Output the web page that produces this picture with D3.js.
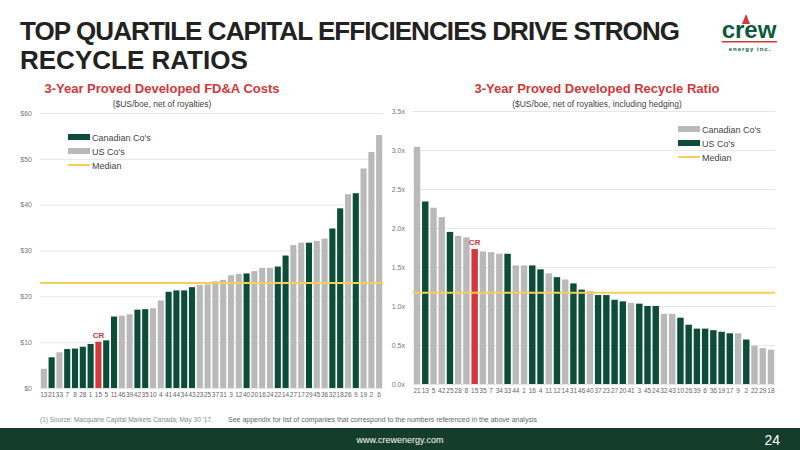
<!DOCTYPE html>
<html><head><meta charset="utf-8">
<script src="https://cdn.jsdelivr.net/npm/d3@7"></script>
<style>body{margin:0;background:#fff}svg{display:block;font-family:"Liberation Sans",Arial,sans-serif}</style>
</head><body><div id="container"></div>
<script>
// left chart: FD&A costs ($US/boe)
let fdaLabels = ['13','21','33','7','8','28','1','15','5','11','46','39','42','35','10','4','41','44','34','43','23','25','37','31','3','12','40','20','16','24','22','14','27','17','29','45','36','32','18','26','9','19','2','6'];
let fdaValues = [4.2,6.7,7.8,8.5,8.6,9.0,9.6,10.1,10.4,15.6,15.8,16.1,17.1,17.2,17.4,19.1,21.0,21.3,21.3,22.0,22.5,22.6,23.3,23.6,24.6,24.9,25.0,25.5,26.2,26.2,26.5,28.9,31.2,31.7,31.7,32.1,32.6,34.8,39.2,42.3,42.5,47.9,51.5,55.2];
// c = Canadian, u = US, r = Crew
let fdaGroups = ['u','c','u','c','c','c','c','r','c','c','u','u','c','c','u','u','c','c','c','c','u','u','u','u','u','u','c','u','u','u','c','c','u','u','c','u','u','c','c','u','c','u','u','u'];
let fdaMedian = 22.9;
let fdaTicks = [0,10,20,30,40,50,60];

// right chart: recycle ratio
let rrLabels = ['21','13','5','42','25','28','8','15','35','7','34','33','44','1','16','4','11','12','14','31','46','40','37','23','27','20','41','3','45','24','32','43','10','26','39','6','36','19','17','9','2','22','29','18'];
let rrValues = [3.04,2.34,2.26,2.14,1.95,1.90,1.88,1.73,1.70,1.69,1.67,1.67,1.52,1.52,1.52,1.47,1.42,1.37,1.34,1.29,1.21,1.19,1.14,1.14,1.08,1.06,1.04,1.03,1.00,1.00,0.90,0.90,0.85,0.76,0.71,0.71,0.69,0.67,0.65,0.65,0.57,0.49,0.46,0.44];
// g = gray ("Canadian Co's" in legend), d = green ("US Co's"), r = Crew
let rrGroups = ['g','d','g','g','d','g','g','r','g','g','g','d','g','g','d','d','g','d','g','d','d','g','d','d','d','d','g','d','d','d','g','g','d','d','d','d','d','d','d','g','d','g','g','g'];
let rrMedian = 1.17;
let rrTicks = [0,0.5,1,1.5,2,2.5,3,3.5];

let green = '#0b4d38', gray = '#b9b9b9', red = '#d2383a', gold = '#f5cf5a';
let colorMap = {c: green, u: gray, r: red, d: green, g: gray};

let svg = d3.select('#container').append('svg').attr('width', 800).attr('height', 450);

// title
svg.append('text').attr('x', 20).attr('y', 40).attr('font-size', 26).attr('font-weight', 'bold')
  .attr('fill', '#222').attr('textLength', 660).text('TOP QUARTILE CAPITAL EFFICIENCIES DRIVE STRONG');
svg.append('text').attr('x', 20).attr('y', 69).attr('font-size', 26).attr('font-weight', 'bold')
  .attr('fill', '#222').text('RECYCLE RATIOS');

// logo
svg.append('text').attr('x', 749).attr('y', 38).attr('text-anchor', 'middle').attr('font-size', 24)
  .attr('font-weight', 'bold').attr('fill', '#0b5a3e').text('crew');
svg.append('path').attr('d', 'M746,14 L742,24 L750,24 Z').attr('fill', '#d2383a');
svg.append('rect').attr('x', 722).attr('y', 41).attr('width', 55).attr('height', 1.5).attr('fill', '#d2383a');
svg.append('text').attr('x', 750).attr('y', 51).attr('text-anchor', 'middle').attr('font-size', 6)
  .attr('font-weight', 'bold').attr('fill', '#0b5a3e').attr('letter-spacing', 1).text('energy inc.');

function drawChart(o) {
  let x = d3.scaleBand().domain(o.labels.map((d, i) => i)).range([o.x0, o.x1]).paddingInner(0.22).paddingOuter(0.1);
  let y = d3.scaleLinear().domain([0, o.ticks[o.ticks.length - 1]]).range([o.y0, o.y1]);
  let g = svg.append('g');

  g.append('text').attr('x', o.tx).attr('y', 93).attr('text-anchor', 'middle').attr('font-size', 13)
    .attr('font-weight', 'bold').attr('fill', '#d2383a').text(o.title);
  g.append('text').attr('x', o.tx).attr('y', 107).attr('text-anchor', 'middle').attr('font-size', 8.5)
    .attr('fill', '#444').text(o.sub);

  let yAxis = g.append('g').attr('transform', 'translate(' + o.x0 + ',0)')
    .call(d3.axisLeft(y).tickValues(o.ticks).tickSize(-(o.x1 - o.x0)).tickFormat(o.fmt));
  yAxis.select('.domain').remove();
  yAxis.selectAll('line').attr('stroke', '#e6e6e6');
  yAxis.selectAll('text').attr('fill', '#777').attr('font-size', 7).attr('x', -8);

  g.selectAll('.bar').data(o.values).enter().append('rect')
    .attr('x', (d, i) => x(i)).attr('width', x.bandwidth())
    .attr('y', d => y(d)).attr('height', d => o.y0 - y(d))
    .attr('fill', (d, i) => colorMap[o.groups[i]]);

  let xAxis = g.append('g').attr('transform', 'translate(0,' + o.y0 + ')')
    .call(d3.axisBottom(x).tickSize(0).tickFormat(i => o.labels[i]));
  xAxis.select('.domain').remove();
  xAxis.selectAll('text').attr('fill', '#666').attr('font-size', 6.5).attr('dy', '0.9em');

  let ci = o.groups.indexOf('r');
  g.append('text').attr('x', x(ci) + x.bandwidth() / 2).attr('y', y(o.values[ci]) - 4)
    .attr('text-anchor', 'middle').attr('font-size', 8).attr('font-weight', 'bold').attr('fill', red).text('CR');

  g.append('line').attr('x1', o.x0).attr('x2', o.x1).attr('y1', y(o.median)).attr('y2', y(o.median))
    .attr('stroke', gold).attr('stroke-width', 2);

  // legend
  o.legend.forEach((l, i) => {
    let ly = o.ly + i * 14;
    if (l.line) g.append('rect').attr('x', o.lx).attr('y', ly - 1).attr('width', 22).attr('height', 2).attr('fill', l.c);
    else g.append('rect').attr('x', o.lx).attr('y', ly - 3).attr('width', 22).attr('height', 6).attr('fill', l.c);
    g.append('text').attr('x', o.lx + 24).attr('y', ly + 3.5).attr('font-size', 9).attr('fill', '#444').text(l.t);
  });
}

drawChart({
  labels: fdaLabels, values: fdaValues, groups: fdaGroups, median: fdaMedian, ticks: fdaTicks,
  x0: 40, x1: 383, y0: 388, y1: 113, tx: 162,
  title: '3-Year Proved Developed FD&A Costs', sub: '($US/boe, net of royalties)',
  fmt: d => '$' + d, lx: 68, ly: 137,
  legend: [{t: "Canadian Co's", c: green}, {t: "US Co's", c: gray}, {t: 'Median', c: gold, line: true}]
});

drawChart({
  labels: rrLabels, values: rrValues, groups: rrGroups, median: rrMedian, ticks: rrTicks,
  x0: 413, x1: 775, y0: 384, y1: 111, tx: 597,
  title: '3-Year Proved Developed Recycle Ratio', sub: '($US/boe, net of royalties, including hedging)',
  fmt: d => d.toFixed(1) + 'x', lx: 678, ly: 129,
  legend: [{t: "Canadian Co's", c: gray}, {t: "US Co's", c: green}, {t: 'Median', c: gold, line: true}]
});

// footnote
svg.append('text').attr('x', 40).attr('y', 422).attr('font-size', 6.5).attr('fill', '#888')
  .text("(1)    Source: Macquarie Capital Markets Canada; May 30 '17.");
svg.append('text').attr('x', 228).attr('y', 422).attr('font-size', 7).attr('fill', '#666')
  .text('See appendix for list of companies that correspond to the numbers referenced in the above analysis');

// footer band
svg.append('rect').attr('x', 0).attr('y', 428).attr('width', 800).attr('height', 22).attr('fill', '#153d2c');
svg.append('text').attr('x', 400).attr('y', 443).attr('text-anchor', 'middle').attr('font-size', 9).attr('fill', '#fff').text('www.crewenergy.com');
svg.append('text').attr('x', 780).attr('y', 445).attr('text-anchor', 'end').attr('font-size', 14).attr('fill', '#fff').text('24');
</script></body></html>
